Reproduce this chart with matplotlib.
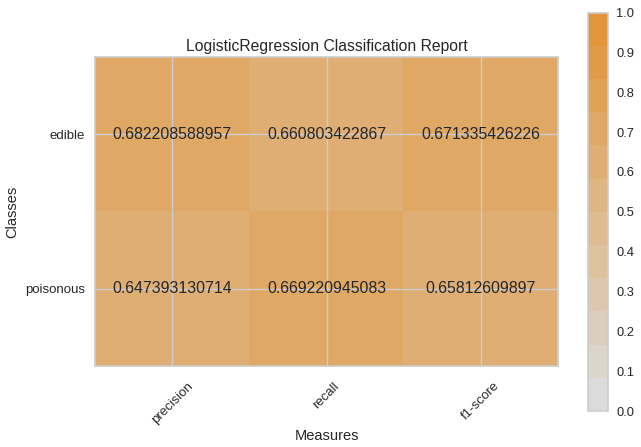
import numpy as np
import matplotlib
matplotlib.use("Agg")
import matplotlib.pyplot as plt
from matplotlib.colors import ListedColormap

classes = ["edible", "poisonous"]
measures = ["precision", "recall", "f1-score"]
scores = [
    [0.682208588957, 0.660803422867, 0.671335426226],
    [0.647393130714, 0.669220945083, 0.65812609897],
]
score_labels = [
    ["0.682208588957", "0.660803422867", "0.671335426226"],
    ["0.647393130714", "0.669220945083", "0.65812609897"],
]
cbar_ticks = [0.0, 0.1, 0.2, 0.3, 0.4, 0.5, 0.6, 0.7, 0.8, 0.9, 1.0]

ddl_heat = ['#DBDBDB', '#DCD5CC', '#DCCEBE', '#DDC8AF', '#DEC2A0', '#DEBB91',
            '#DFB583', '#DFAE74', '#E0A865', '#E1A256', '#E19B48', '#E29539']
cmap = ListedColormap(ddl_heat)

plt.rcParams['font.family'] = ['Liberation Sans', 'DejaVu Sans']
text_color = '#262626'
grid_color = '#cccccc'

fig = plt.figure(figsize=(6.41, 4.47), dpi=100)
ax = fig.add_axes([95/641, 1-366/447, (558-95)/641, (366-57)/447])
cax = fig.add_axes([588/641, 1-411/447, 20/641, (411-12.5)/447])

data = np.array(scores)
im = ax.imshow(data, interpolation='nearest', cmap=cmap, vmin=0, vmax=1,
               aspect='auto', zorder=0)
ax.set_xticks(np.arange(len(measures)))
ax.set_xticklabels(measures, rotation=45, fontsize=9.5, color=text_color)
ax.set_yticks(np.arange(len(classes)))
ax.set_yticklabels(classes, fontsize=9.5, color=text_color)
ax.tick_params(length=0, pad=7)
ax.tick_params(axis='x', pad=10)
ax.grid(True, color=grid_color, linewidth=1, zorder=2)
ax.set_axisbelow(False)
for s in ax.spines.values():
    s.set_color(grid_color)
    s.set_linewidth(1.2)

for r in range(len(classes)):
    for c in range(len(measures)):
        ax.text(c, r, score_labels[r][c], ha='center', va='center',
                fontsize=11.4, color=text_color, zorder=3)

ax.set_title("LogisticRegression Classification Report", fontsize=11.3,
             color=text_color, pad=4)
ax.set_xlabel("Measures", fontsize=10.5, color=text_color, labelpad=2)
ax.set_ylabel("Classes", fontsize=10.5, color=text_color, labelpad=4)

cb = fig.colorbar(im, cax=cax, ticks=cbar_ticks)
cb.outline.set_edgecolor(grid_color)
cb.outline.set_linewidth(1.2)
cax.tick_params(length=0, pad=6, labelsize=9.3, colors=text_color)
cax.set_yticklabels(["%.1f" % t for t in cbar_ticks])

fig.savefig("out.png", dpi=100)
